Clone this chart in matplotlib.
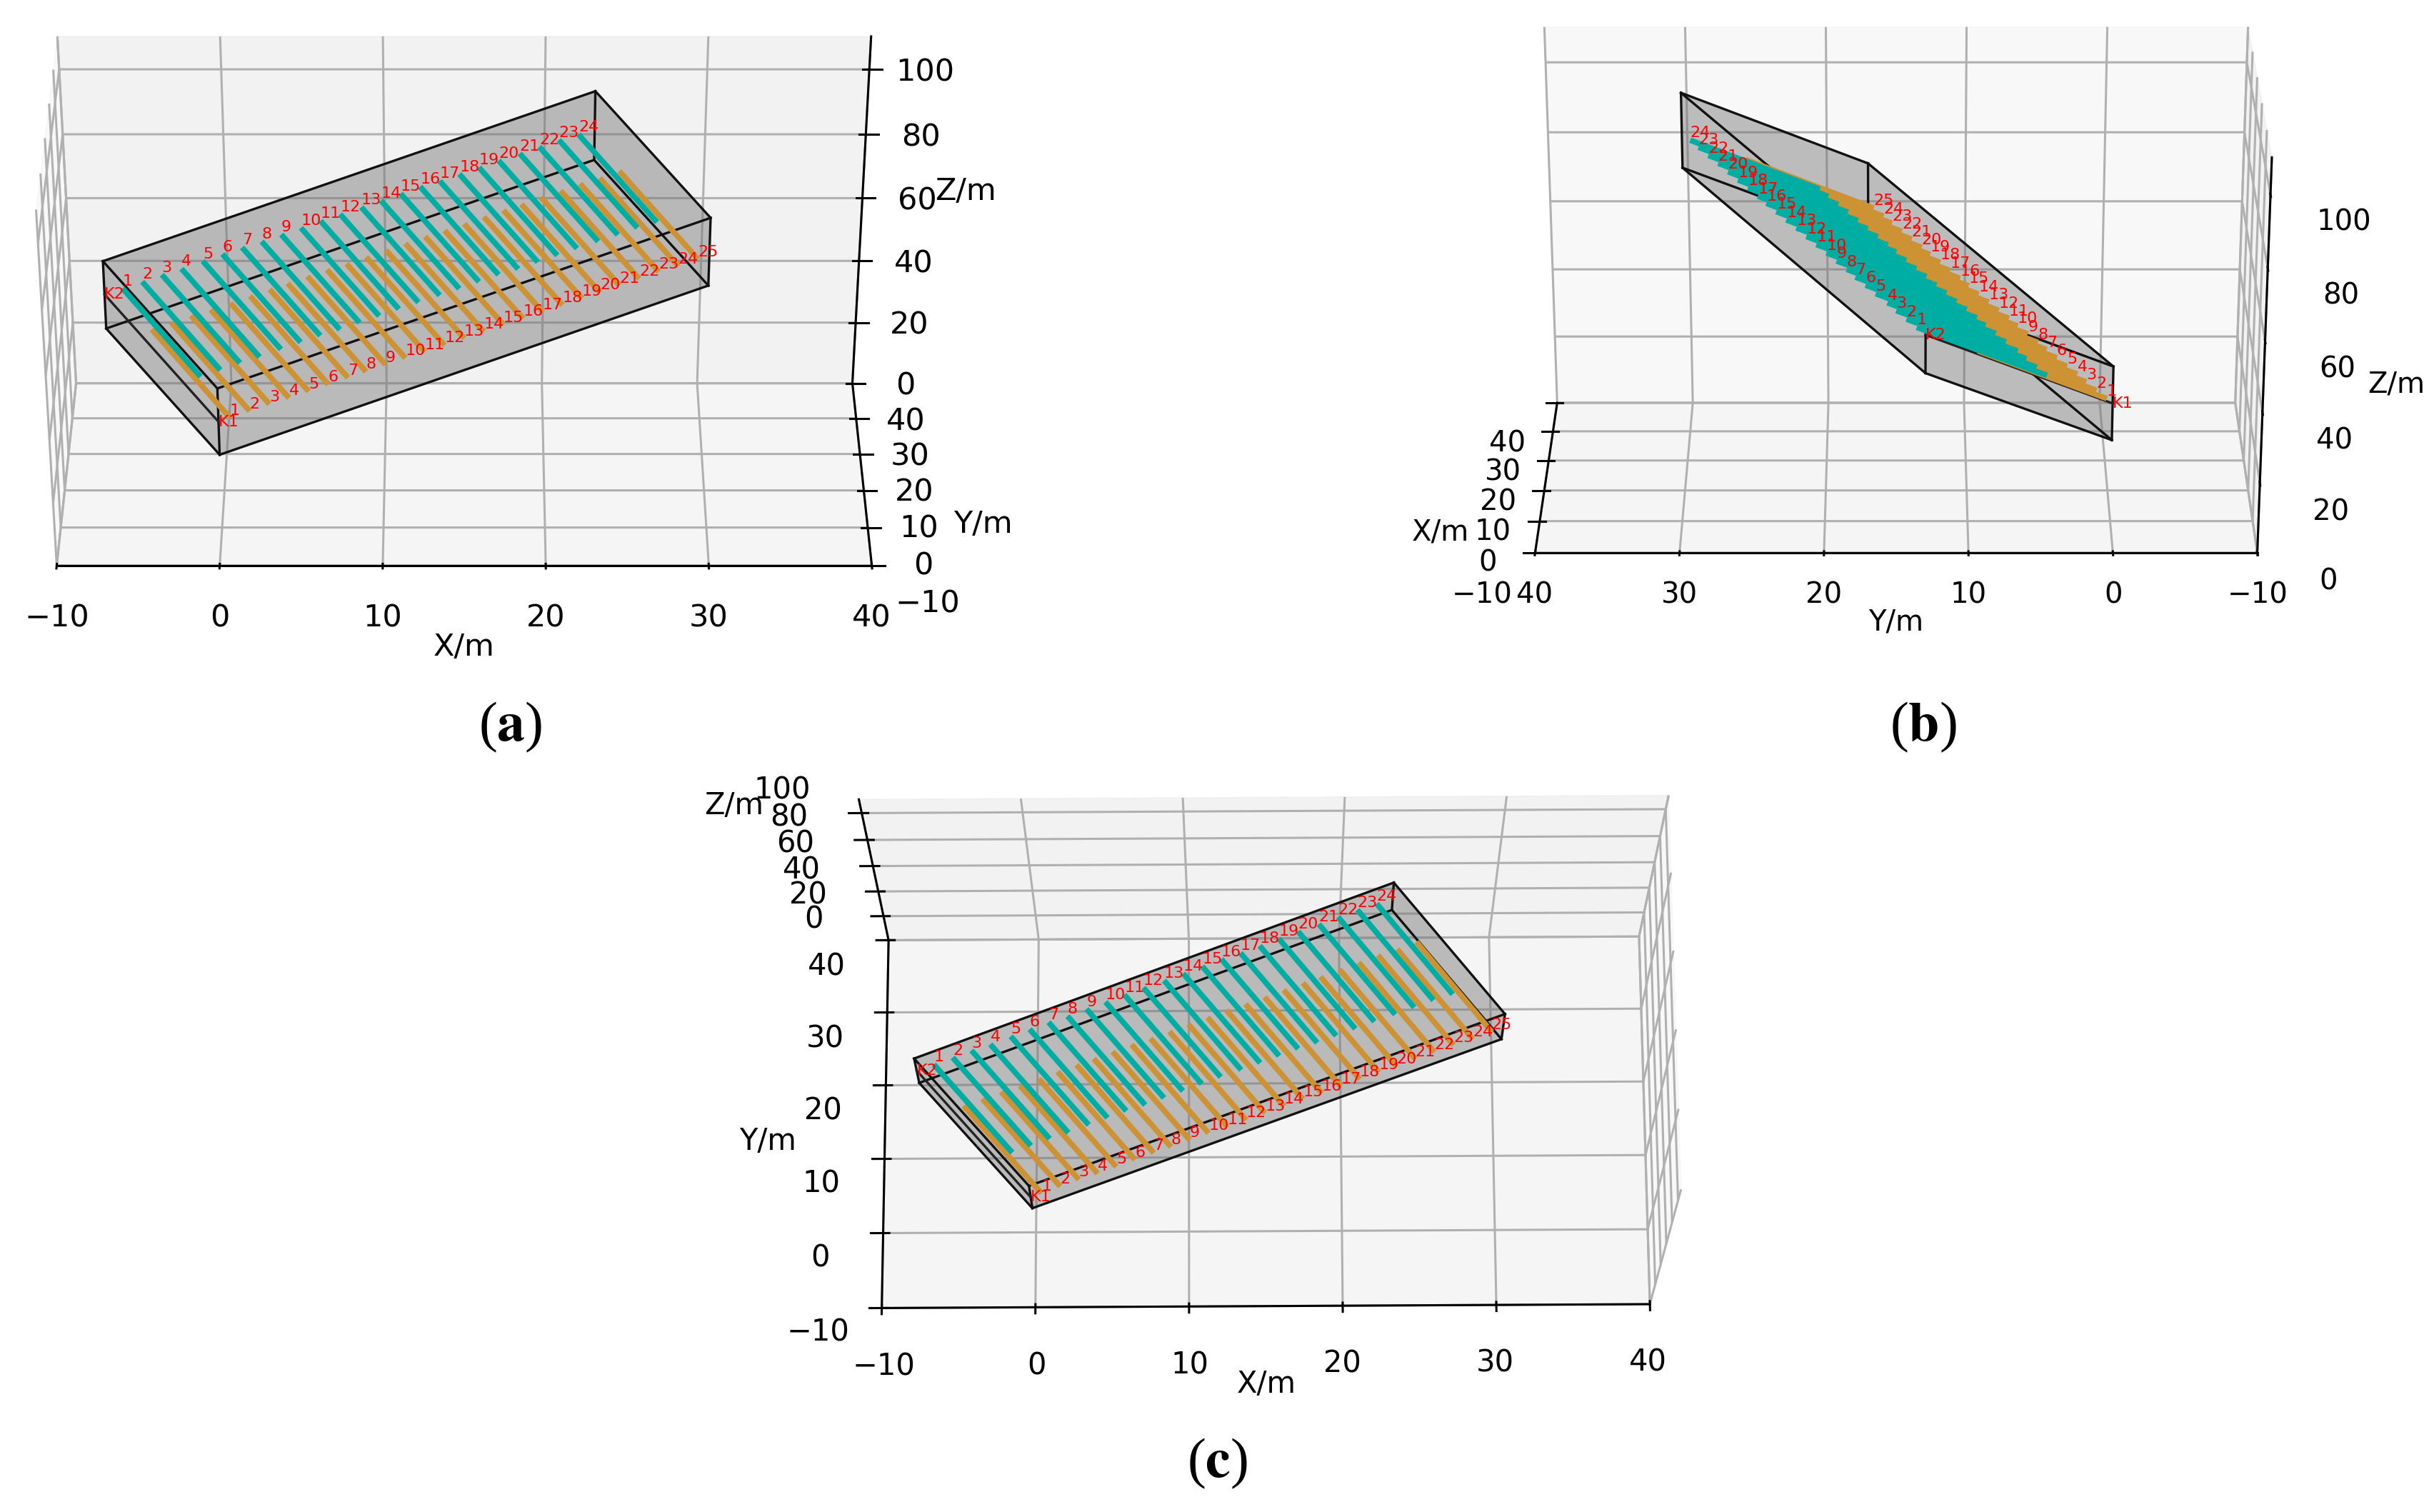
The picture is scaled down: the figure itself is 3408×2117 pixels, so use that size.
import matplotlib
matplotlib.use('Agg')
import matplotlib.pyplot as plt
from mpl_toolkits.mplot3d.art3d import Poly3DCollection

# box corners: A = K1 corner, B, C, D = K2 corner
corner_x = [0, 30, 23, -7]
corner_y = [0, 17, 30, 13]
corner_z_bottom = [23.5, 57.5, 82.5, 48.5]
corner_z_top = [44.5, 78.5, 103.5, 69.5]
# line K1-K2 inside the box
fault_x = [-7, 0]
fault_y = [13, 0]
fault_z = [59.2, 34.0]

orange_x0 = [0.7, 1.9, 3.1, 4.3, 5.5, 6.7, 7.9, 9.0, 10.2, 11.4, 12.6, 13.8, 15.0, 16.2, 17.4, 18.6, 19.8, 21.0, 22.2, 23.3, 24.5, 25.7, 26.9, 28.1, 29.3]
orange_y0 = [0.4, 1.1, 1.8, 2.4, 3.1, 3.8, 4.5, 5.1, 5.8, 6.5, 7.1, 7.8, 8.5, 9.2, 9.9, 10.5, 11.2, 11.9, 12.6, 13.2, 13.9, 14.6, 15.3, 15.9, 16.6]
orange_z0 = [34.8, 36.1, 37.5, 38.7, 40.0, 41.4, 42.7, 43.9, 45.3, 46.6, 47.8, 49.1, 50.5, 51.8, 53.2, 54.4, 55.7, 57.1, 58.4, 59.6, 61.0, 62.3, 63.7, 64.8, 66.2]
orange_x1 = [-4.1, -2.9, -1.7, -0.5, 0.7, 1.9, 3.1, 4.2, 5.4, 6.6, 7.8, 9.0, 10.2, 11.4, 12.6, 13.8, 15.0, 16.2, 17.4, 18.5, 19.7, 20.9, 22.1, 23.3, 24.5]
orange_y1 = [9.4, 10.1, 10.8, 11.4, 12.1, 12.8, 13.5, 14.1, 14.8, 15.5, 16.1, 16.8, 17.5, 18.2, 18.9, 19.5, 20.2, 20.9, 21.6, 22.2, 22.9, 23.6, 24.3, 24.9, 25.6]
orange_z1 = [52.3, 53.6, 55.0, 56.2, 57.5, 58.9, 60.2, 61.4, 62.8, 64.1, 65.3, 66.6, 68.0, 69.3, 70.7, 71.9, 73.2, 74.6, 75.9, 77.1, 78.5, 79.8, 81.2, 82.3, 83.7]

teal_x0 = [-5.9, -4.7, -3.5, -2.3, -1.0, 0.2, 1.4, 2.6, 3.8, 5.0, 6.2, 7.4, 8.7, 9.9, 11.1, 12.3, 13.5, 14.7, 15.9, 17.1, 18.4, 19.6, 20.8, 22.0]
teal_y0 = [13.6, 14.3, 15.0, 15.6, 16.4, 17.1, 17.8, 18.4, 19.1, 19.8, 20.5, 21.2, 21.9, 22.6, 23.3, 24.0, 24.6, 25.3, 26.0, 26.7, 27.4, 28.1, 28.8, 29.4]
teal_z0 = [60.4, 61.7, 63.1, 64.3, 65.8, 67.2, 68.5, 69.7, 71.1, 72.4, 73.8, 75.1, 76.5, 77.8, 79.2, 80.6, 81.7, 83.1, 84.4, 85.8, 87.2, 88.5, 89.9, 91.0]
teal_x1 = [-1.1, 0.1, 1.3, 2.5, 3.8, 5.0, 6.2, 7.4, 8.6, 9.8, 11.0, 12.2, 13.5, 14.7, 15.9, 17.1, 18.3, 19.5, 20.7, 21.9, 23.2, 24.4, 25.6, 26.8]
teal_y1 = [4.6, 5.3, 6.0, 6.6, 7.4, 8.1, 8.8, 9.4, 10.1, 10.8, 11.5, 12.2, 12.9, 13.6, 14.3, 15.0, 15.6, 16.3, 17.0, 17.7, 18.4, 19.1, 19.8, 20.4]
teal_z1 = [42.9, 44.2, 45.6, 46.8, 48.3, 49.7, 51.0, 52.2, 53.6, 54.9, 56.3, 57.6, 59.0, 60.3, 61.7, 63.1, 64.2, 65.6, 66.9, 68.3, 69.7, 71.0, 72.4, 73.5]

xy_ticks = [-10, 0, 10, 20, 30, 40]
z_ticks = [0, 20, 40, 60, 80, 100]

W, H = 3408, 2117
plt.rcParams['grid.color'] = '#b0b0b0'
plt.rcParams['grid.linewidth'] = 2.2
plt.rcParams['axes.linewidth'] = 2.2
plt.rcParams['xtick.major.width'] = 2.2
plt.rcParams['ytick.major.width'] = 2.2


def add_panel(cx, cy, size, elev, azim, aspect, outline, fs, pads, label_pads):
    rect = [(cx - 0.5135 * size) / W, 1 - (cy + 0.5135 * size) / H, size / W, size / H]
    ax = fig.add_axes(rect, projection='3d')
    ax.patch.set_alpha(0)
    ax.computed_zorder = False
    ax.view_init(elev=elev, azim=azim)
    ax.set_box_aspect(aspect)
    ax.set_xlim(-10, 40)
    ax.set_ylim(-10, 40)
    ax.set_zlim(0, 110)
    ax.set_xticks(xy_ticks)
    ax.set_yticks(xy_ticks)
    ax.set_zticks(z_ticks)
    ax.tick_params(labelsize=fs)
    ax.tick_params(axis='x', pad=pads[0])
    ax.tick_params(axis='y', pad=pads[1])
    ax.tick_params(axis='z', pad=pads[2])
    for axis, name, lp in zip([ax.xaxis, ax.yaxis, ax.zaxis], ['X/m', 'Y/m', 'Z/m'], label_pads):
        axis.set_rotate_label(False)
        axis.set_label_text(name, fontsize=fs, rotation=0)
        axis.labelpad = lp

    # gray body, one polygon so the shade stays even
    pts = []
    for i, top in outline:
        z = corner_z_top[i] if top else corner_z_bottom[i]
        pts.append((corner_x[i], corner_y[i], z))
    ax.add_collection3d(Poly3DCollection([pts], facecolor=(0.45, 0.45, 0.45, 0.45), edgecolor='none', zorder=2))

    # box edges
    for i in range(4):
        j = (i + 1) % 4
        ax.plot([corner_x[i], corner_x[j]], [corner_y[i], corner_y[j]], [corner_z_top[i], corner_z_top[j]],
                color='#111111', lw=2.4, zorder=3)
        ax.plot([corner_x[i], corner_x[j]], [corner_y[i], corner_y[j]], [corner_z_bottom[i], corner_z_bottom[j]],
                color='#111111', lw=2.4, zorder=3)
        ax.plot([corner_x[i], corner_x[i]], [corner_y[i], corner_y[i]], [corner_z_bottom[i], corner_z_top[i]],
                color='#111111', lw=2.4, zorder=3)
    ax.plot(fault_x, fault_y, fault_z, color='#222222', lw=2.4, zorder=3)

    for i in range(len(orange_x0)):
        ax.plot([orange_x0[i], orange_x1[i]], [orange_y0[i], orange_y1[i]], [orange_z0[i], orange_z1[i]],
                color='#cc9233', lw=5.6, solid_capstyle='butt', zorder=4)
        ax.text(orange_x0[i], orange_y0[i], orange_z0[i], str(i + 1), color='red', fontsize=16,
                ha='left', va='bottom', zorder=6)
    for i in range(len(teal_x0)):
        ax.plot([teal_x0[i], teal_x1[i]], [teal_y0[i], teal_y1[i]], [teal_z0[i], teal_z1[i]],
                color='#00ada3', lw=5.6, solid_capstyle='butt', zorder=5)
        ax.text(teal_x0[i], teal_y0[i], teal_z0[i], str(i + 1), color='red', fontsize=16,
                ha='left', va='bottom', zorder=6)
    ax.text(fault_x[0], fault_y[0], fault_z[0], 'K2', color='red', fontsize=16, ha='left', va='center', zorder=6)
    ax.text(fault_x[1], fault_y[1], fault_z[1], 'K1', color='red', fontsize=16, ha='left', va='center', zorder=6)
    return ax


fig = plt.figure(figsize=(W / 100, H / 100), dpi=100)

outline_front = [(3, True), (2, True), (1, True), (1, False), (0, False), (3, False)]
outline_side = [(2, True), (1, True), (0, True), (0, False), (3, False), (2, False)]

ax_a = add_panel(650, 421, 1320, 35, -90, (1140, 434, 600), outline_front, 31, (27, 27, 27), (55, 57, 46))
ax_b = add_panel(2655, 401, 1215, 25, 180, (465, 998, 595), outline_side, 29, (26, 16, 35), (50, 38, 57))
ax_c = add_panel(1771, 1482, 1327, 72, -90.3, (1104, 560, 580), outline_front, 30, (37, 35, 42), (60, 60, 70))

plt.rcParams['mathtext.fontset'] = 'stix'
for label, px, py in [('a', 715, 1018), ('b', 2693, 1018), ('c', 1704, 2049)]:
    fig.text(px / W, 1 - py / H, '($\\mathbf{' + label + '}$)', fontsize=56, family='Liberation Serif',
             ha='center', va='center')

fig.savefig('out.png', dpi=100)
